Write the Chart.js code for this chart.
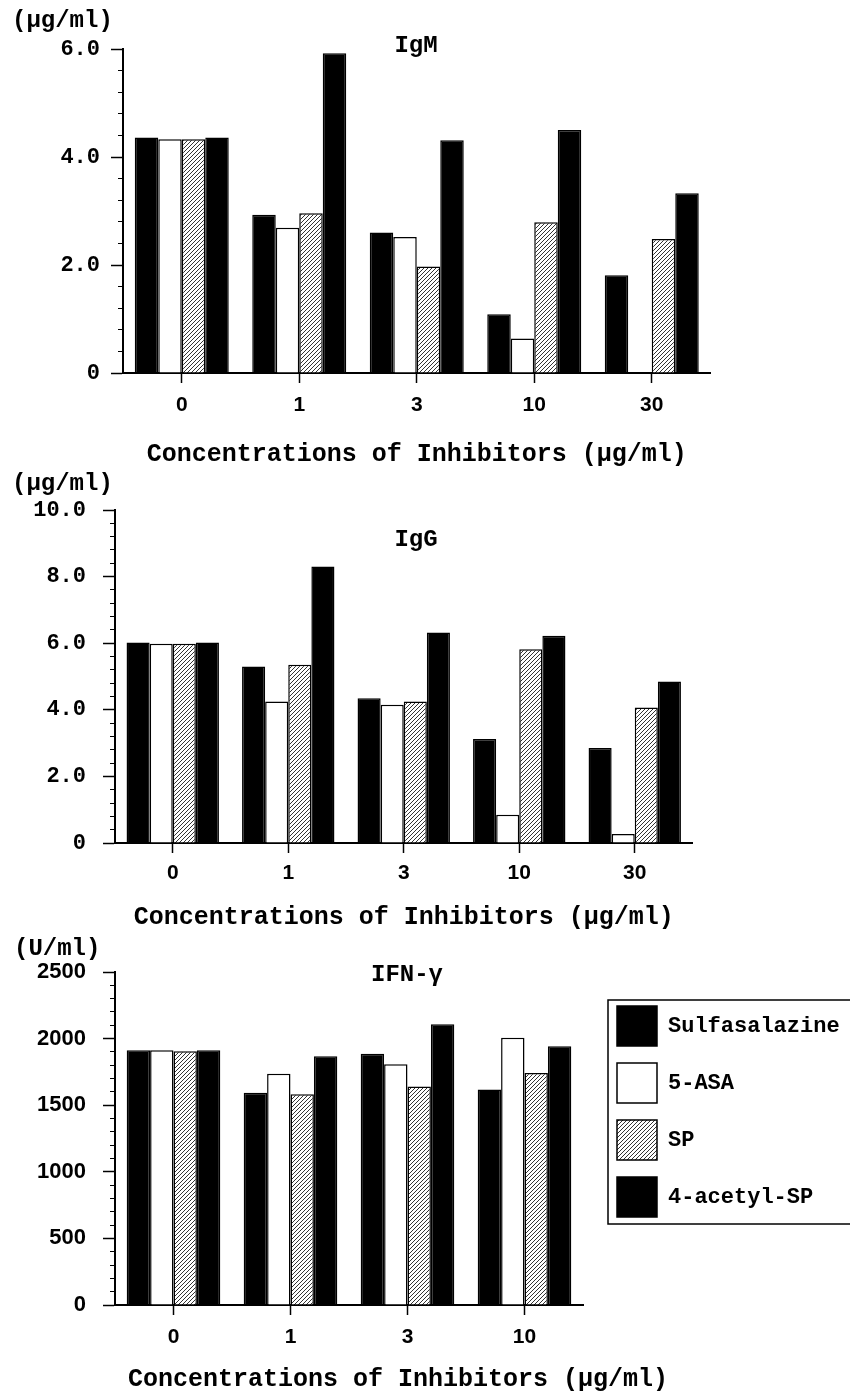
<!DOCTYPE html>
<html>
<head>
<meta charset="utf-8">
<script src="https://cdn.jsdelivr.net/npm/chart.js@4.4.1/dist/chart.umd.min.js"></script>
<style>
  html, body { margin: 0; padding: 0; background: #fff; }
  #page { position: relative; width: 850px; height: 1393px; overflow: hidden; }
  canvas { position: absolute; left: 0; }
</style>
</head>
<body>
<div id="page">
  <canvas id="igmChart" width="850" height="470" style="top:0px"></canvas>
  <canvas id="iggChart" width="850" height="465" style="top:470px"></canvas>
  <canvas id="ifnChart" width="850" height="460" style="top:935px"></canvas>
</div>
<script>
// drugs and concentrations
const drugs = ['Sulfasalazine', '5-ASA', 'SP', '4-acetyl-SP'];
const concIg = ['0', '1', '3', '10', '30'];
const concIfn = ['0', '1', '3', '10'];

// IgM (ug/ml)
const igmSulfa  = [4.36, 2.93, 2.60, 1.09, 1.81];
const igmAsa    = [4.33, 2.69, 2.52, 0.64, null];
const igmSp     = [4.33, 2.96, 1.97, 2.79, 2.48];
const igmAcetyl = [4.36, 5.92, 4.31, 4.50, 3.33];

// IgG (ug/ml)
const iggSulfa  = [6.02, 5.30, 4.35, 3.12, 2.85];
const iggAsa    = [5.98, 4.25, 4.15, 0.85, 0.27];
const iggSp     = [5.98, 5.35, 4.25, 5.82, 4.07];
const iggAcetyl = [6.02, 8.30, 6.32, 6.22, 4.85];

// IFN-gamma (U/ml)
const ifnSulfa  = [1912, 1593, 1887, 1617];
const ifnAsa    = [1912, 1737, 1807, 2007];
const ifnSp     = [1905, 1582, 1640, 1742];
const ifnAcetyl = [1912, 1867, 2107, 1942];

const xTitle = 'Concentrations of Inhibitors (\u03bcg/ml)';

function hatch(ctx) {
  const tile = document.createElement('canvas');
  tile.width = 4; tile.height = 4;
  const g = tile.getContext('2d');
  g.fillStyle = '#fff';
  g.fillRect(0, 0, 4, 4);
  g.strokeStyle = '#333';
  g.lineWidth = 1;
  g.beginPath();
  g.moveTo(0, 4); g.lineTo(4, 0);
  g.moveTo(-1, 1); g.lineTo(1, -1);
  g.moveTo(3, 5); g.lineTo(5, 3);
  g.stroke();
  return ctx.createPattern(tile, 'repeat');
}

function makeSets(ctx, s, a, p, k) {
  const fills = ['#000', '#fff', hatch(ctx), '#000'];
  return [s, a, p, k].map((d, i) => ({
    label: drugs[i],
    data: d,
    backgroundColor: fills[i],
    borderColor: '#000',
    borderWidth: 1.5,
    categoryPercentage: 0.8,
    barPercentage: 1.0
  }));
}

// titles, unit labels and the legend frame
const decor = {
  id: 'decor',
  afterDraw(chart, args, o) {
    const c = chart.ctx;
    c.save();
    c.fillStyle = '#000';
    c.textBaseline = 'middle';
    c.font = 'bold 24px "Liberation Mono"';
    c.textAlign = 'center';
    c.fillText(o.title, o.titleX, o.titleY);
    c.textAlign = 'left';
    c.fillText(o.unit, o.unitX, o.unitY);
    if (o.xTitleY) {
      // wider than the x scale, so drawn here instead of as the axis title
      c.font = 'bold 25px "Liberation Mono"';
      c.textAlign = 'center';
      c.fillText(xTitle, o.xTitleX, o.xTitleY);
    }
    if (o.frame) {
      c.strokeStyle = '#000';
      c.lineWidth = 1.5;
      c.strokeRect(o.frame[0], o.frame[1], o.frame[2], o.frame[3]);
    }
    c.restore();
  }
};

// moves the legend so the first swatch sits at (x, y)
const legendShift = {
  id: 'legendShift',
  afterLayout(chart, args, o) {
    const lg = chart.legend;
    if (!lg || o.x === undefined) return;
    const pad = lg.options.labels.padding;
    const dx = o.x - (lg.left + pad);
    const dy = o.y - (lg.top + pad);
    lg.left += dx; lg.right += dx;
    lg.top += dy; lg.bottom += dy;
  }
};

function build(id, cats, data, o) {
  const ctx = document.getElementById(id).getContext('2d');
  return new Chart(ctx, {
    type: 'bar',
    data: { labels: cats, datasets: makeSets(ctx, ...data) },
    plugins: [decor, legendShift],
    options: {
      responsive: false,
      animation: false,
      layout: { padding: { top: o.top, left: 0, right: o.right, bottom: 0 } },
      plugins: {
        title: { display: false },
        tooltip: { enabled: false },
        legend: o.legend || { display: false },
        decor: o.decor,
        legendShift: o.shift || {}
      },
      scales: {
        x: {
          ticks: { color: '#000', padding: o.xPad, font: { family: 'Liberation Sans', weight: 'bold', size: 21 } },
          grid: { offset: false, drawOnChartArea: false, tickLength: 10, tickWidth: 1.5, tickColor: '#000' },
          border: { color: '#000', width: 2 },
          title: {
            display: !o.decor.xTitleY, text: xTitle, color: '#000',
            font: { family: 'Liberation Mono', weight: 'bold', size: 25 },
            padding: { top: 0, bottom: o.titlePad }
          },
          afterFit: s => { s.height = o.axisH; }
        },
        y: {
          min: 0, max: o.yMax, weight: 1,
          ticks: {
            stepSize: o.yStep, color: '#000', padding: o.yPad,
            font: o.yFont,
            callback: o.fmt
          },
          grid: { drawOnChartArea: false, tickLength: 12, tickWidth: 1.5, tickColor: '#000' },
          border: { color: '#000', width: 2 },
          afterFit: s => { s.width = o.left; }
        },
        yMinor: {
          position: 'left', min: 0, max: o.yMax, weight: 0,
          ticks: { stepSize: o.minor, display: false },
          grid: { drawOnChartArea: false, tickLength: 5, tickWidth: 1, tickColor: '#000' },
          border: { color: '#000', width: 2 },
          afterFit: s => { s.width = 0; }
        }
      }
    }
  });
}

const monoTicks = { family: 'Liberation Mono', weight: 'bold', size: 22 };
const sansTicks = { family: 'Liberation Sans', weight: 'bold', size: 22 };
const oneDecimal = v => (v === 0 ? '0' : v.toFixed(1));

build('igmChart', concIg, [igmSulfa, igmAsa, igmSp, igmAcetyl], {
  top: 49, left: 123, right: 139.5, axisH: 97, xPad: 10, titlePad: 0,
  yMax: 6, yStep: 2, minor: 0.4, yPad: 11, yFont: monoTicks, fmt: oneDecimal,
  decor: { title: 'IgM', titleX: 416, titleY: 46, unit: '(\u03bcg/ml)', unitX: 12, unitY: 21 }
});

build('iggChart', concIg, [iggSulfa, iggAsa, iggSp, iggAcetyl], {
  top: 40, left: 115, right: 157.5, axisH: 92, xPad: 8, titlePad: 2.5,
  yMax: 10, yStep: 2, minor: 0.4, yPad: 17, yFont: monoTicks, fmt: oneDecimal,
  decor: { title: 'IgG', titleX: 416, titleY: 70, unit: '(\u03bcg/ml)', unitX: 12, unitY: 14 }
});

build('ifnChart', concIfn, [ifnSulfa, ifnAsa, ifnSp, ifnAcetyl], {
  top: 37, left: 115, right: 267, axisH: 90, xPad: 10, titlePad: 0,
  yMax: 2500, yStep: 500, minor: 100, yPad: 17, yFont: sansTicks, fmt: v => String(v),
  legend: {
    display: true, position: 'chartArea', align: 'start',
    labels: {
      boxWidth: 40, boxHeight: 40, padding: 17, color: '#000',
      font: { family: 'Liberation Mono', weight: 'bold', size: 22 }
    }
  },
  shift: { x: 617, y: 71 },
  decor: {
    title: 'IFN-\u03b3', titleX: 407, titleY: 40, unit: '(U/ml)', unitX: 14, unitY: 14,
    xTitleX: 398, xTitleY: 445, frame: [608, 65, 260, 224]
  }
});
</script>
</body>
</html>
